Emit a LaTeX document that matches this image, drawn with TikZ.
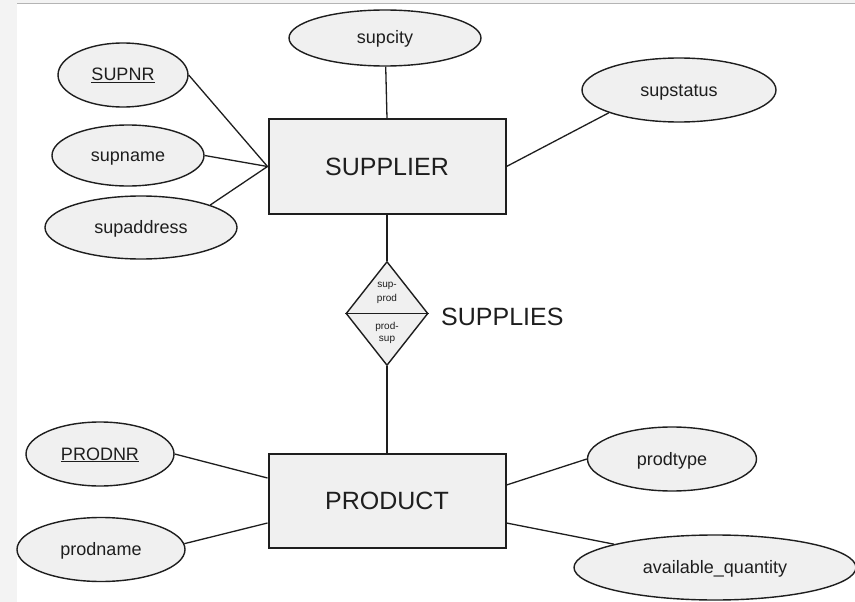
\documentclass[tikz,border=0pt]{standalone}
\usepackage{fontspec}
\setmainfont{Liberation Sans}
\usetikzlibrary{shapes.geometric}
\definecolor{shapefill}{HTML}{F0F0F0}
\definecolor{inkgray}{HTML}{1E1E1E}
\definecolor{framegray}{HTML}{F3F3F3}
\definecolor{rulegray}{HTML}{B4B4B4}
\begin{document}
\begin{tikzpicture}[x=1pt,y=-1pt,
  entity/.style={draw=inkgray, line width=2pt, fill=shapefill, rectangle,
    minimum width=237pt, minimum height=94pt, inner sep=0pt,
    font=\fontsize{25}{25}\selectfont, text=inkgray},
  attr/.style={draw=inkgray, line width=1.4pt, fill=shapefill, ellipse,
    inner sep=0pt, text height=16pt, text depth=4pt,
    font=\fontsize{18}{18}\selectfont, text=inkgray},
  rel/.style={draw=inkgray, line width=1.4pt, fill=shapefill, diamond,
    minimum width=82pt, minimum height=104pt, inner sep=0pt},
  roletxt/.style={font=\fontsize{10}{10}\selectfont, text=inkgray, inner sep=0pt},
  link/.style={draw=inkgray, line width=1.3pt}]

% page frame
\useasboundingbox (0,0) rectangle (855,602);
\fill[white] (0,0) rectangle (855,602);
\fill[framegray] (0,0) rectangle (17,602);
\fill[framegray] (17,0) rectangle (855,3);
\draw[rulegray, line width=1pt] (17,3.5) -- (855,3.5);

% entities
\node[entity] (sup)  at (387,166.5) {SUPPLIER};
\node[entity] (prod) at (387,500.5) {PRODUCT};

% supplier attributes
\node[attr, minimum width=130pt, minimum height=64pt] (supnr) at (123,75) {\underline{SUPNR}};
\node[attr, minimum width=152pt, minimum height=61pt] (supname) at (128,155.5) {supname};
\node[attr, minimum width=192pt, minimum height=63pt] (supaddress) at (141,227.5) {supaddress};
\node[attr, minimum width=192pt, minimum height=56pt] (supcity) at (385,38) {supcity};
\node[attr, minimum width=194pt, minimum height=64pt] (supstatus) at (679,90) {supstatus};

% product attributes
\node[attr, minimum width=148pt, minimum height=64pt] (prodnr) at (100,454) {\underline{PRODNR}};
\node[attr, minimum width=168pt, minimum height=64pt] (prodname) at (101,549.5) {prodname};
\node[attr, minimum width=169pt, minimum height=64pt] (prodtype) at (672,459) {prodtype};
\node[attr, minimum width=282pt, minimum height=65pt] (availqty) at (715,567.5) {available\_quantity};

% relationship
\node[rel] (supplies) at (387,313.5) {};
\draw[inkgray, line width=1.6pt] (supplies.west) -- (supplies.east);
\node[roletxt] (r1a) at (387,285.5) {sup-};
\node[roletxt] (r1b) at (387,299) {prod};
\node[roletxt] (r2a) at (387,326.5) {prod-};
\node[roletxt] (r2b) at (387,340) {sup};
\node[anchor=west, inner sep=0pt, font=\fontsize{25}{25}\selectfont, text=inkgray] (reltxt) at (441,317) {SUPPLIES};

% attachment points on the entities
\coordinate (pl1) at ([yshift=22.5pt]prod.west);
\coordinate (pl2) at ([yshift=-22.5pt]prod.west);
\coordinate (pr1) at ([yshift=15.5pt]prod.east);
\coordinate (pr2) at ([yshift=-22.5pt]prod.east);

% connectors
\draw[link] (supnr.east) -- (sup.west);
\draw[link] (supname.east) -- (sup.west);
\draw[link] (supaddress.18) -- (sup.west);
\draw[link] (supcity) -- (sup.north);
\draw[link] (supstatus.198) -- (sup.east);
\draw[link] (sup.south) -- (supplies.north);
\draw[link] (supplies.south) -- (prod.north);
\draw[link] (prodnr.east) -- (pl1);
\draw[link] (prodname.4) -- (pl2);
\draw[link] (prodtype.west) -- (pr1);
\draw[link] (availqty.167.6) -- (pr2);
\end{tikzpicture}
\end{document}
